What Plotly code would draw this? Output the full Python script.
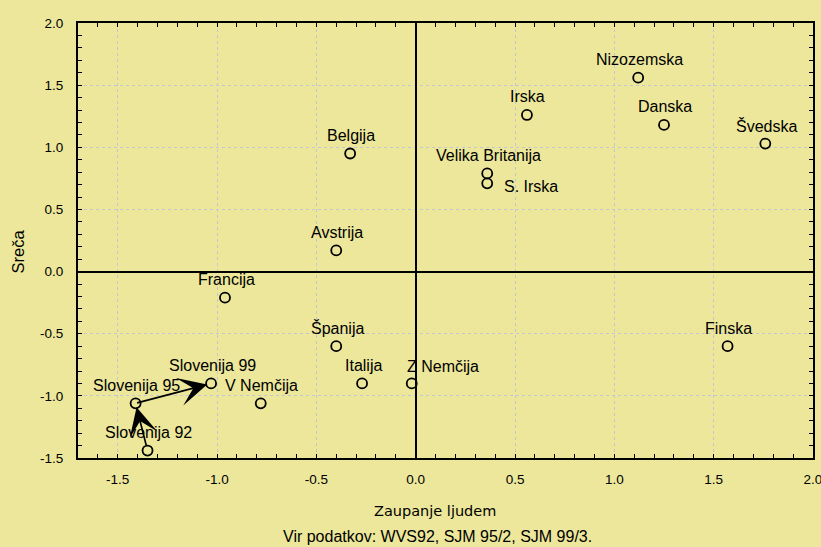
import plotly.graph_objects as go

countries = ["Belgija", "Avstrija", "Nizozemska", "Irska", "Danska", "Švedska",
             "Velika Britanija", "S. Irska", "Francija", "Španija", "Italija",
             "Z Nemčija", "Slovenija 99", "V Nemčija", "Slovenija 95",
             "Slovenija 92", "Finska"]
zaupanje = [-0.33, -0.40, 1.12, 0.56, 1.25, 1.76, 0.36, 0.36, -0.96, -0.40,
            -0.27, -0.02, -1.03, -0.78, -1.41, -1.35, 1.57]
sreca = [0.95, 0.17, 1.56, 1.26, 1.18, 1.03, 0.79, 0.71, -0.21, -0.60,
         -0.90, -0.90, -0.90, -1.06, -1.06, -1.44, -0.60]

# label offsets (pixels) relative to point: (xshift, yshift, xanchor)
label_pos = {
    "S. Irska": (15, -3, "left"),
    "Z Nemčija": (-7, 17, "left"),
}

x_ticks = [-1.5, -1.0, -0.5, 0.0, 0.5, 1.0, 1.5, 2.0]
y_ticks = [-1.5, -1.0, -0.5, 0.0, 0.5, 1.0, 1.5, 2.0]

BG = "#ECE79A"
FONT = "Liberation Sans, Arial, sans-serif"

fig = go.Figure()
fig.add_trace(go.Scatter(
    x=zaupanje, y=sreca, mode="markers",
    marker=dict(symbol="circle-open", size=10, color="black",
                line=dict(width=1.8, color="black")),
    hoverinfo="text", text=countries, showlegend=False,
))

annotations = []
for name, xv, yv in zip(countries, zaupanje, sreca):
    xs, ys, xa = label_pos.get(name, (1, 18, "center"))
    annotations.append(dict(
        x=xv, y=yv, xref="x", yref="y", text=name, showarrow=False,
        xshift=xs, yshift=ys, xanchor=xa, yanchor="middle",
        font=dict(family=FONT, size=16, color="black"),
    ))

idx = {n: i for i, n in enumerate(countries)}
path = ["Slovenija 92", "Slovenija 95", "Slovenija 99"]
for a, b in zip(path[:-1], path[1:]):
    annotations.append(dict(
        x=zaupanje[idx[b]], y=sreca[idx[b]],
        ax=zaupanje[idx[a]], ay=sreca[idx[a]],
        xref="x", yref="y", axref="x", ayref="y",
        text="", showarrow=True, arrowhead=3, arrowsize=2.8,
        arrowwidth=1.7, arrowcolor="black", standoff=4,
        startstandoff=4 if a == "Slovenija 92" else 0,
    ))

annotations.append(dict(
    x=(434.5 - 78) / 735, y=(458 - 511) / 435, xref="paper", yref="paper",
    text="Zaupanje ljudem", showarrow=False, xanchor="center", yanchor="middle",
    font=dict(family="DejaVu Sans, Liberation Sans, sans-serif", size=14.5,
              color="black"),
))
annotations.append(dict(
    x=(437 - 78) / 735, y=-0.18, xref="paper", yref="paper",
    text="Vir podatkov: WVS92, SJM 95/2, SJM 99/3.", showarrow=False,
    xanchor="center", yanchor="middle",
    font=dict(family=FONT, size=16, color="black"),
))
annotations.append(dict(
    x=(17 - 78) / 735, y=(458 - 251.5) / 435, xref="paper", yref="paper",
    text="Sreča", showarrow=False, textangle=-90,
    xanchor="center", yanchor="middle",
    font=dict(family=FONT, size=16.5, color="black"),
))

axis_common = dict(
    automargin=False, ticklabeloverflow="allow",
    showline=True, linecolor="black", linewidth=2, mirror="ticks",
    ticks="inside", ticklen=4, tickwidth=1, tickcolor="black",
    showgrid=True, gridcolor="#C4C6D4", griddash="dot", gridwidth=1,
    zeroline=True, zerolinecolor="black", zerolinewidth=1.5,
    tickfont=dict(family=FONT, size=13.5, color="black"),
    minor=dict(ticks="inside", ticklen=4, tickwidth=1, tickcolor="black",
               dtick=0.1, showgrid=False),
)

fig.update_xaxes(range=[-1.7, 2.0], tickvals=x_ticks,
                 ticktext=[f"{v:.1f}" for v in x_ticks],
                 ticklabelstandoff=8, **axis_common)
fig.update_yaxes(range=[-1.5, 2.0], tickvals=y_ticks,
                 ticktext=[f"{v:.1f}" for v in y_ticks],
                 ticklabelstandoff=10, **axis_common)

fig.update_layout(
    width=821, height=547,
    margin=dict(l=78, r=8, t=23, b=89),
    paper_bgcolor=BG, plot_bgcolor=BG,
    annotations=annotations,
    font=dict(family=FONT, color="black"),
)

fig.write_html(
    "out.html",
    config={"displayModeBar": False},
    post_script=("document.body.style.margin='0';"
                 "document.body.style.padding='0';"
                 "document.body.style.overflow='hidden';"
                 "document.body.style.background='" + BG + "';"),
)
